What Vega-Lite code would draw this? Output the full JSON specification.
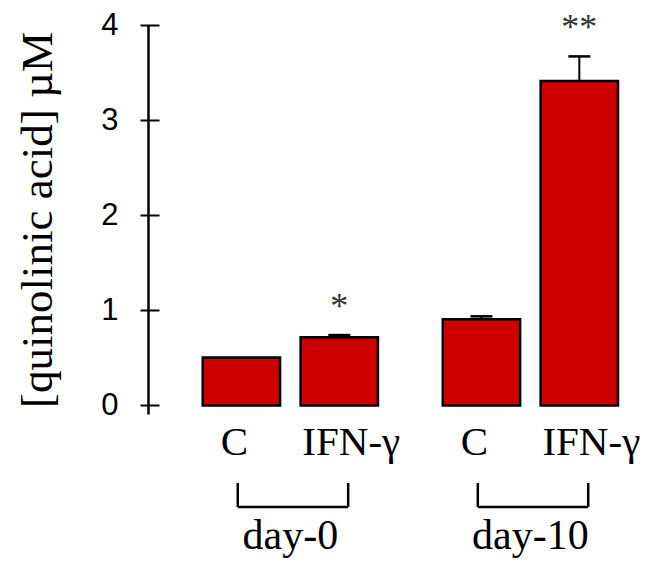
{
  "$schema": "https://vega.github.io/schema/vega-lite/v6.json",
  "width": 470,
  "height": 389,
  "autosize": "none",
  "padding": {"left": 148, "top": 25, "right": 36, "bottom": 151},
  "background": "white",
  "config": {"view": {"stroke": null}},
  "datasets": {
    "bars": [
      {"day": "day-0", "treat": "C", "mean": 0.505, "hi": 0.505, "sig": ""},
      {"day": "day-0", "treat": "IFN-γ", "mean": 0.716, "hi": 0.74, "sig": "*"},
      {"day": "day-10", "treat": "C", "mean": 0.905, "hi": 0.937, "sig": ""},
      {"day": "day-10", "treat": "IFN-γ", "mean": 3.41, "hi": 3.67, "sig": "**"}
    ],
    "days": [{"day": "day-0"}, {"day": "day-10"}]
  },
  "data": {"name": "bars"},
  "resolve": {"axis": {"y": "independent"}},
  "layer": [
    {
      "mark": {"type": "bar", "fill": "#CC0000", "stroke": "black", "strokeWidth": 2.5},
      "encoding": {
        "x": {"field": "day", "type": "nominal", "sort": ["day-0", "day-10"], "title": null,
          "scale": {"paddingInner": 0.27, "paddingOuter": 0.114, "align": 1},
          "axis": {"domain": false, "ticks": false, "tickSize": 0, "labelPadding": 134, "labelBaseline": "alphabetic",
            "labelFont": "Liberation Serif", "labelFontSize": 42, "labelColor": "black", "labelAngle": 0}},
        "xOffset": {"field": "treat", "type": "nominal", "sort": ["C", "IFN-γ"], "scale": {"paddingInner": 0.21, "paddingOuter": 0}},
        "y": {"field": "mean", "type": "quantitative",
          "scale": {"domain": [-0.09, 4], "nice": false, "zero": false},
          "axis": {"orient": "left", "values": [0, 1, 2, 3, 4], "domain": true, "domainColor": "black", "domainWidth": 2.5,
            "ticks": false, "tickSize": 0, "labelPadding": 30, "labelFlush": false, "labelFont": "Liberation Sans",
            "labelFontSize": 31, "labelColor": "black", "grid": false,
            "title": "[quinolinic acid] µM", "titleFont": "Liberation Serif", "titleFontSize": 45,
            "titleFontWeight": "normal", "titleColor": "black", "titlePadding": 40}},
        "y2": {"datum": 0}
      }
    },
    {
      "transform": [{"filter": "datum.hi > datum.mean"}],
      "mark": {"type": "rule", "stroke": "black", "strokeWidth": 2},
      "encoding": {
        "x": {"field": "day", "type": "nominal", "title": null},
        "xOffset": {"field": "treat", "type": "nominal"},
        "y": {"field": "mean", "type": "quantitative",
          "axis": {"orient": "left", "offset": -11, "values": [0, 1, 2, 3, 4], "domain": false, "labels": false,
            "ticks": true, "tickSize": 19, "tickWidth": 2, "tickColor": "black", "grid": false, "title": null}},
        "y2": {"field": "hi"}
      }
    },
    {
      "transform": [{"filter": "datum.hi > datum.mean"}],
      "mark": {"type": "tick", "orient": "horizontal", "size": 22, "thickness": 2.5, "color": "black", "opacity": 1},
      "encoding": {
        "x": {"field": "day", "type": "nominal", "title": null},
        "xOffset": {"field": "treat", "type": "nominal"},
        "y": {"field": "hi", "type": "quantitative", "axis": null}
      }
    },
    {
      "transform": [{"filter": "datum.sig != ''"}],
      "mark": {"type": "text", "font": "Liberation Serif", "fontSize": 36, "baseline": "alphabetic", "align": "center", "dy": -17, "color": "#333333"},
      "encoding": {
        "x": {"field": "day", "type": "nominal", "title": null},
        "xOffset": {"field": "treat", "type": "nominal"},
        "y": {"field": "hi", "type": "quantitative", "axis": null},
        "text": {"field": "sig"}
      }
    },
    {
      "transform": [{"filter": "datum.treat == 'C'"}],
      "mark": {"type": "text", "font": "Liberation Serif", "fontSize": 41, "baseline": "alphabetic", "align": "center", "dx": -7, "color": "black"},
      "encoding": {
        "x": {"field": "day", "type": "nominal", "title": null},
        "xOffset": {"field": "treat", "type": "nominal"},
        "y": {"datum": -0.52, "type": "quantitative", "axis": null},
        "text": {"field": "treat"}
      }
    },
    {
      "transform": [{"filter": "datum.treat != 'C'"}],
      "mark": {"type": "text", "font": "Liberation Serif", "fontSize": 41, "baseline": "alphabetic", "align": "center", "dx": 12, "color": "black"},
      "encoding": {
        "x": {"field": "day", "type": "nominal", "title": null},
        "xOffset": {"field": "treat", "type": "nominal"},
        "y": {"datum": -0.52, "type": "quantitative", "axis": null},
        "text": {"field": "treat"}
      }
    },
    {
      "data": {"name": "days"},
      "mark": {"type": "rule", "stroke": "black", "strokeWidth": 2.5},
      "encoding": {
        "x": {"field": "day", "type": "nominal", "bandPosition": 0.2, "title": null},
        "x2": {"field": "day", "bandPosition": 0.83},
        "y": {"datum": -1.068, "type": "quantitative", "axis": null}
      }
    },
    {
      "data": {"name": "days"},
      "mark": {"type": "rule", "stroke": "black", "strokeWidth": 2.5},
      "encoding": {
        "x": {"field": "day", "type": "nominal", "bandPosition": 0.2, "title": null},
        "y": {"datum": -0.816, "type": "quantitative", "axis": null},
        "y2": {"datum": -1.068}
      }
    },
    {
      "data": {"name": "days"},
      "mark": {"type": "rule", "stroke": "black", "strokeWidth": 2.5},
      "encoding": {
        "x": {"field": "day", "type": "nominal", "bandPosition": 0.83, "title": null},
        "y": {"datum": -0.816, "type": "quantitative", "axis": null},
        "y2": {"datum": -1.068}
      }
    }
  ]
}
